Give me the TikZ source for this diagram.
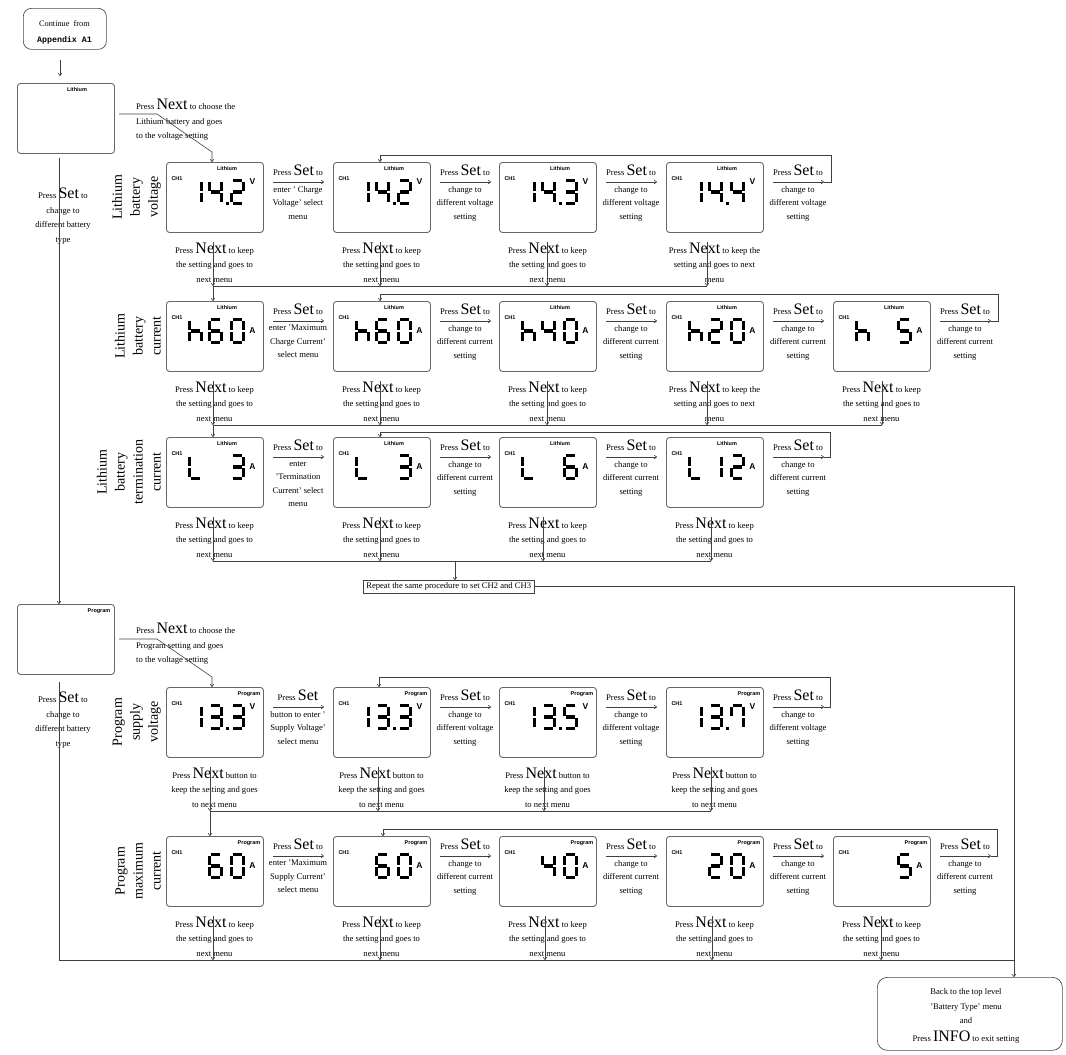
\documentclass[tikz,border=0pt]{standalone}
\usepackage{fontspec}
\setmainfont{Liberation Serif}
\newfontfamily\labfont{Liberation Sans}
\newfontfamily\monofont{Liberation Mono}
\usetikzlibrary{arrows.meta}

\newcommand\bw[1]{{\fontsize{16}{16}\selectfont #1}}
\newcommand\segs[1]{\foreach \q in {#1}{\csname sgx\q\endcsname}}
\def\sgxa{\draw[seg] (1.5,0)--(10.5,0);}
\def\sgxb{\draw[seg] (12,1.5)--(12,10.3);}
\def\sgxc{\draw[seg] (12,12.7)--(12,21.5);}
\def\sgxd{\draw[seg] (1.5,23)--(10.5,23);}
\def\sgxe{\draw[seg] (0,12.7)--(0,21.5);}
\def\sgxf{\draw[seg] (0,1.5)--(0,10.3);}
\def\sgxg{\draw[seg] (1.5,11.5)--(10.5,11.5);}

\tikzset{
 ln/.style={draw=black!75, line width=0.6pt},
 arr/.style={ln, -{To[length=3pt,width=4pt]}},
 lcdbox/.style={draw=black!60, line width=0.9pt, rounded corners=3pt, minimum width=97pt, minimum height=70pt, inner sep=0pt, anchor=north west},
 seg/.style={line width=3.3pt, draw=black},
 tag/.style={font=\labfont\bfseries\fontsize{5.5}{5.5}\selectfont, inner sep=0pt},
 unitf/.style={font=\labfont\bfseries\fontsize{8.5}{8.5}\selectfont, inner sep=0pt},
 txt/.style={font=\fontsize{8.6}{14.5}\selectfont, align=center, inner sep=0pt},
 gtxt/.style={font=\fontsize{8.6}{13.5}\selectfont, align=center, inner sep=0pt, anchor=north},
 rowlab/.style={font=\fontsize{14}{18}\selectfont, align=center, inner sep=0pt, rotate=90, anchor=south},
 pics/n0/.style={code={\segs{a,b,c,d,e,f}}},
 pics/n1/.style={code={\segs{b,c}}},
 pics/n2/.style={code={\segs{a,b,g,e,d}}},
 pics/n3/.style={code={\segs{a,b,g,c,d}}},
 pics/n4/.style={code={\segs{f,g,b,c}}},
 pics/n5/.style={code={\segs{a,f,g,c,d}}},
 pics/n6/.style={code={\segs{a,f,g,e,d,c}}},
 pics/n7/.style={code={\segs{a,b,c,f}}},
 pics/nh/.style={code={\segs{f,e,g,c}}},
 pics/nL/.style={code={\segs{f,e,d}}},
}
\newcommand\dg[2]{\pic at (#1,0) {#2};}
\newcommand\dotp{\fill (59.5,21) rectangle (62.5,24.5);}
% name, x, y, label, label x-offset, digits, unit, unit y-offset
\newcommand\lcd[8]{%
  \node[lcdbox] (#1) at (#2,#3) {};
  \node[tag] (#1-lab) at (#2+#5,#3+7) {#4};
  \node[tag] (#1-ch) at (#2+11,#3+17) {CH1};
  \node[unitf] (#1-u) at (#2+86.5,#3+#8) {#7};
  \begin{scope}[shift={(#2,#3+18.5)}]#6\end{scope}
}
% name, gx, T, rest text, first line
\newcommand\gap[5]{%
  \node[txt, anchor=base] (#1-s) at (#2,#3+13.5) {#5};
  \draw[arr] (#2-25,#3+20) -- (#2+26,#3+20);
  \node[gtxt] (#1-r) at (#2,#3+24) {#4};
}
% name, cx, B, text, line x
\newcommand\nxt[5]{%
  \node[txt, anchor=north] (#1) at (#2,#3+10.4) {#4};
  \draw[arr] (#5,#3+10) -- (#5,#3+54);
}
\newcommand\PS{Press \bw{Set} to}
\newcommand\NK{Press \bw{Next} to keep\\the setting and goes to\\next menu}
\newcommand\NKT{Press \bw{Next} to keep the\\setting and goes to next\\menu}
\newcommand\NB{Press \bw{Next} button to\\keep the setting and goes\\to next menu}
\newcommand\CV{change to\\different voltage\\setting}
\newcommand\CC{change to\\different current\\setting}

\begin{document}
\begin{tikzpicture}[x=1pt,y=-1pt]
\useasboundingbox (0,0) rectangle (1066,1055);

% start
\node[draw=black!70, line width=0.7pt, rounded corners=8pt, minimum width=83pt, minimum height=41pt, anchor=north west] (cont) at (23,8) {};
\node[font=\fontsize{8.3}{16}\selectfont, align=center, inner sep=0pt] (contt) at (64.5,32) {Continue\ \ from\\{\monofont\bfseries Appendix A1}};
\coordinate (c0) at (60,60);
\draw[arr] (c0) -- (60,76);

% Lithium top box
\node[lcdbox] (lith) at (17,83) {};
\node[tag] (lith-lab) at (77,90) {Lithium};
\node[txt, align=left, anchor=north west] (lith-t) at (136,99) {Press \bw{Next} to choose the\\Lithium battery and goes\\to the voltage setting};
\draw[arr] (119,114) -- (157,114) -- (212,152) -- (212,162);
\node[txt, anchor=north] (lith-s) at (63,188) {Press \bw{Set} to\\change to\\different battery\\type};

% Program top box
\node[lcdbox] (prog) at (17,604) {};
\node[tag] (prog-lab) at (99,611) {Program};
\node[txt, align=left, anchor=north west] (prog-t) at (136,623) {Press \bw{Next} to choose the\\Program setting and goes\\to the voltage setting};
\draw[arr] (119,639) -- (157,639) -- (212,677) -- (212,687);
\node[txt, anchor=north] (prog-s) at (63,692) {Press \bw{Set} to\\change to\\different battery\\type};
\draw[arr] (59,158) -- (prog.north west -| 59,0);
\draw[ln] (59,682) -- (59,960);

% row labels
\node[rowlab] (rl1) at (161,197) {Lithium\\battery\\voltage};
\node[rowlab] (rl2) at (161,336) {Lithium\\battery\\current};
\node[rowlab] (rl3) at (161,472) {Lithium\\battery\\termination\\current};
\node[rowlab] (rl4) at (161,722) {Program\\supply\\voltage};
\node[rowlab] (rl5) at (161,871) {Program\\maximum\\current};

% ---------- Row 1 ----------
\lcd{r1b1}{166}{162}{Lithium}{61}{\dg{23.5}{n1}\dg{43.5}{n4}\dotp\dg{65.5}{n2}}{V}{20}
\lcd{r1b2}{333}{162}{Lithium}{61}{\dg{23.5}{n1}\dg{43.5}{n4}\dotp\dg{65.5}{n2}}{V}{20}
\lcd{r1b3}{499}{162}{Lithium}{61}{\dg{23.5}{n1}\dg{43.5}{n4}\dotp\dg{65.5}{n3}}{V}{20}
\lcd{r1b4}{666}{162}{Lithium}{61}{\dg{23.5}{n1}\dg{43.5}{n4}\dotp\dg{65.5}{n4}}{V}{20}
\gap{r1g1}{298}{162}{enter ' Charge\\Voltage' select\\menu}{\PS}
\gap{r1g2}{465}{162}{\CV}{\PS}
\gap{r1g3}{631}{162}{\CV}{\PS}
\gap{r1g4}{798}{162}{\CV}{\PS}
\draw[arr] (824,182) -- (831,182) -- (831,155) -- (380,155) -- (380,162);
\nxt{r1n1}{214.5}{232}{\NK}{213}
\nxt{r1n2}{381.5}{232}{\NK}{380}
\nxt{r1n3}{547.5}{232}{\NK}{547}
\nxt{r1n4}{714.5}{232}{\NKT}{707}
\draw[ln] (213,286) -- (707,286);

% ---------- Row 2 ----------
\lcd{r2b1}{166}{301}{Lithium}{61}{\dg{23.5}{nh}\dg{43.5}{n6}\dg{65.5}{n0}}{A}{30}
\lcd{r2b2}{333}{301}{Lithium}{61}{\dg{23.5}{nh}\dg{43.5}{n6}\dg{65.5}{n0}}{A}{30}
\lcd{r2b3}{499}{301}{Lithium}{61}{\dg{23.5}{nh}\dg{43.5}{n4}\dg{65.5}{n0}}{A}{30}
\lcd{r2b4}{666}{301}{Lithium}{61}{\dg{23.5}{nh}\dg{43.5}{n2}\dg{65.5}{n0}}{A}{30}
\lcd{r2b5}{833}{301}{Lithium}{61}{\dg{23.5}{nh}\dg{65.5}{n5}}{A}{30}
\draw[arr] (213,286) -- (r2b1.north west -| 213,0);
\gap{r2g1}{298}{301}{enter 'Maximum\\Charge Current'\\select menu}{\PS}
\gap{r2g2}{465}{301}{\CC}{\PS}
\gap{r2g3}{631}{301}{\CC}{\PS}
\gap{r2g4}{798}{301}{\CC}{\PS}
\gap{r2g5}{965}{301}{\CC}{\PS}
\draw[arr] (991,321) -- (998,321) -- (998,294) -- (380,294) -- (380,301);
\nxt{r2n1}{214.5}{371}{\NK}{213}
\nxt{r2n2}{381.5}{371}{\NK}{380}
\nxt{r2n3}{547.5}{371}{\NK}{547}
\nxt{r2n4}{714.5}{371}{\NKT}{707}
\nxt{r2n5}{881.5}{371}{\NK}{882}
\draw[ln] (213,425) -- (882,425);

% ---------- Row 3 ----------
\lcd{r3b1}{166}{437}{Lithium}{61}{\dg{23.5}{nL}\dg{65.5}{n3}}{A}{30}
\lcd{r3b2}{333}{437}{Lithium}{61}{\dg{23.5}{nL}\dg{65.5}{n3}}{A}{30}
\lcd{r3b3}{499}{437}{Lithium}{61}{\dg{23.5}{nL}\dg{65.5}{n6}}{A}{30}
\lcd{r3b4}{666}{437}{Lithium}{61}{\dg{23.5}{nL}\dg{43.5}{n1}\dg{65.5}{n2}}{A}{30}
\draw[arr] (213,425) -- (r3b1.north west -| 213,0);
\gap{r3g1}{298}{437}{enter\\'Termination\\Current' select\\menu}{\PS}
\gap{r3g2}{465}{437}{\CC}{\PS}
\gap{r3g3}{631}{437}{\CC}{\PS}
\gap{r3g4}{798}{437}{\CC}{\PS}
\draw[arr] (824,457) -- (830,457) -- (830,432) -- (380,432) -- (380,437);
\nxt{r3n1}{214.5}{507}{\NK}{213}
\nxt{r3n2}{381.5}{507}{\NK}{380}
\nxt{r3n3}{547.5}{507}{\NK}{543}
\nxt{r3n4}{714.5}{507}{\NK}{711}
\draw[ln] (213,561) -- (711,561);

\node[draw=black!75, line width=0.6pt, inner xsep=3pt, inner ysep=2.5pt, anchor=north west, font=\fontsize{8.6}{10}\selectfont] (rep) at (363,580) {Repeat the same procedure to set CH2 and CH3};
\draw[arr] (455,561) -- (rep.north -| 455,0);
\coordinate (bk) at (1014,977);
\draw[arr] (rep.east) -| (bk);

% ---------- Row 4 ----------
\lcd{r4b1}{166}{687}{Program}{83}{\dg{23.5}{n1}\dg{43.5}{n3}\dotp\dg{65.5}{n3}}{V}{20}
\lcd{r4b2}{333}{687}{Program}{83}{\dg{23.5}{n1}\dg{43.5}{n3}\dotp\dg{65.5}{n3}}{V}{20}
\lcd{r4b3}{499}{687}{Program}{83}{\dg{23.5}{n1}\dg{43.5}{n3}\dotp\dg{65.5}{n5}}{V}{20}
\lcd{r4b4}{666}{687}{Program}{83}{\dg{23.5}{n1}\dg{43.5}{n3}\dotp\dg{65.5}{n7}}{V}{20}
\gap{r4g1}{298}{687}{button to enter '\\Supply Voltage'\\select menu}{Press \bw{Set}}
\gap{r4g2}{465}{687}{\CV}{\PS}
\gap{r4g3}{631}{687}{\CV}{\PS}
\gap{r4g4}{798}{687}{\CV}{\PS}
\draw[arr] (824,707) -- (830,707) -- (830,677) -- (379,677) -- (379,687);
\nxt{r4n1}{214.5}{757}{\NB}{210}
\nxt{r4n2}{381.5}{757}{\NB}{378}
\nxt{r4n3}{547.5}{757}{\NB}{544}
\nxt{r4n4}{714.5}{757}{\NB}{711}
\draw[ln] (210,811) -- (711,811);

% ---------- Row 5 ----------
\lcd{r5b1}{166}{836}{Program}{83}{\dg{43.5}{n6}\dg{65.5}{n0}}{A}{30}
\lcd{r5b2}{333}{836}{Program}{83}{\dg{43.5}{n6}\dg{65.5}{n0}}{A}{30}
\lcd{r5b3}{499}{836}{Program}{83}{\dg{43.5}{n4}\dg{65.5}{n0}}{A}{30}
\lcd{r5b4}{666}{836}{Program}{83}{\dg{43.5}{n2}\dg{65.5}{n0}}{A}{30}
\lcd{r5b5}{833}{836}{Program}{83}{\dg{65.5}{n5}}{A}{30}
\draw[arr] (210,811) -- (r5b1.north west -| 210,0);
\gap{r5g1}{298}{836}{enter 'Maximum\\Supply Current'\\select menu}{\PS}
\gap{r5g2}{465}{836}{\CC}{\PS}
\gap{r5g3}{631}{836}{\CC}{\PS}
\gap{r5g4}{798}{836}{\CC}{\PS}
\gap{r5g5}{965}{836}{\CC}{\PS}
\draw[arr] (991,856) -- (997,856) -- (997,829) -- (383,829) -- (383,836);
\nxt{r5n1}{214.5}{906}{\NK}{213}
\nxt{r5n2}{381.5}{906}{\NK}{380}
\nxt{r5n3}{547.5}{906}{\NK}{545}
\nxt{r5n4}{714.5}{906}{\NK}{712}
\nxt{r5n5}{881.5}{906}{\NK}{881}
\draw[ln] (59,960) -- (1014,960);

% end box
\node[draw=black!70, line width=0.7pt, rounded corners=10pt, minimum width=185pt, minimum height=73pt, anchor=north west] (back) at (877,977) {};
\node[txt] (backt) at (966,1016) {Back to the top level\\'Battery Type' menu\\and\\[3pt]Press \bw{INFO} to exit setting};
\end{tikzpicture}
\end{document}
